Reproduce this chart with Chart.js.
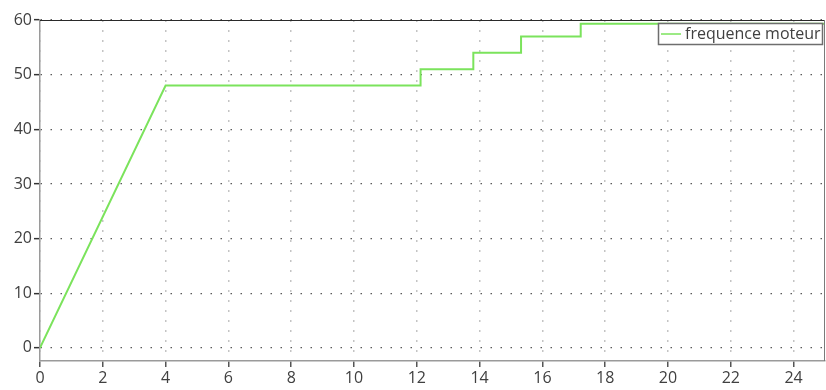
<!DOCTYPE html>
<html>
<head>
<meta charset="utf-8">
<script src="https://cdn.jsdelivr.net/npm/chart.js@4"></script>
<style>
  html, body { margin: 0; padding: 0; background: #fff; }
  #wrap { width: 826px; height: 390px; }
</style>
</head>
<body>
<div id="wrap"><canvas id="freqChart"></canvas></div>
<script>
// Temps (s) et frequence moteur (Hz)
const timeValues = [0, 4, 12.12, 12.12, 13.8, 13.8, 15.32, 15.32, 17.22, 17.22, 25];
const freqValues = [0, 48, 48, 51, 51, 54, 54, 57, 57, 59.3, 59.3];
const xTicks = [0, 2, 4, 6, 8, 10, 12, 14, 16, 18, 20, 22, 24];
const yTicks = [0, 10, 20, 30, 40, 50, 60];
const seriesLabel = 'frequence moteur';

const COLORS = {
  line: '#7be35c',
  text: '#404040',
  axis: '#9a9a9a',
  gridX: '#c4c4c4',
  gridY: '#5a5a5a',
  frameTop: '#2a2a2a',
  frameRight: '#7a7a7a'
};
const FONT = { family: "'Open Sans', sans-serif", size: 16 };

// cadre haut/droite + legende encadree dans la zone du graphe
const framePlugin = {
  id: 'frame',
  afterDatasetsDraw(chart) {
    const { ctx, chartArea: a } = chart;
    ctx.save();
    ctx.lineWidth = 1;
    ctx.strokeStyle = COLORS.frameTop;
    ctx.beginPath();
    ctx.moveTo(a.left, a.top + 0.5);
    ctx.lineTo(a.right, a.top + 0.5);
    ctx.stroke();
    ctx.strokeStyle = COLORS.frameRight;
    ctx.beginPath();
    ctx.moveTo(a.right - 0.5, a.top);
    ctx.lineTo(a.right - 0.5, a.bottom);
    ctx.stroke();

    // legende
    const w = 165, h = 22;
    const lx = a.right - w - 2, ly = a.top + 3;
    ctx.fillStyle = '#fff';
    ctx.fillRect(lx, ly, w, h);
    ctx.beginPath();
    ctx.rect(lx, ly, w, h);
    ctx.clip();
    ctx.strokeStyle = COLORS.line;
    ctx.lineWidth = 1.5;
    ctx.beginPath();
    ctx.moveTo(lx + 3, ly + h / 2);
    ctx.lineTo(lx + 23, ly + h / 2);
    ctx.stroke();
    ctx.fillStyle = COLORS.text;
    ctx.font = `${FONT.size}px ${FONT.family}`;
    ctx.textBaseline = 'middle';
    ctx.fillText(seriesLabel, lx + 27, ly + h / 2 + 0.5);
    ctx.restore();
    ctx.save();
    ctx.strokeStyle = '#6e6e6e';
    ctx.lineWidth = 1.5;
    ctx.strokeRect(lx + 0.5, ly + 0.5, w - 1, h - 1);
    ctx.restore();
  }
};

new Chart(document.getElementById('freqChart'), {
  type: 'line',
  data: {
    datasets: [{
      label: seriesLabel,
      data: timeValues.map((t, i) => ({ x: t, y: freqValues[i] })),
      borderColor: COLORS.line,
      borderWidth: 2,
      pointRadius: 0,
      tension: 0,
      fill: false
    }]
  },
  options: {
    responsive: true,
    maintainAspectRatio: false,
    animation: false,
    layout: { padding: { top: 20, right: 1, left: 0, bottom: 0 } },
    plugins: {
      legend: { display: false },
      tooltip: { enabled: false }
    },
    scales: {
      x: {
        type: 'linear',
        min: 0,
        max: 25,
        afterBuildTicks: s => { s.ticks = xTicks.map(v => ({ value: v })); },
        afterFit: s => { s.height = 29; },
        border: { color: COLORS.axis, width: 1.5, dash: [2, 8] },
        grid: {
          color: COLORS.gridX,
          lineWidth: 1.5,
          tickColor: '#555',
          tickBorderDash: [],
          tickLength: 6,
          tickWidth: 1.5
        },
        ticks: { color: COLORS.text, font: FONT, padding: 2, maxRotation: 0, autoSkip: false }
      },
      y: {
        min: -2.4,
        max: 60,
        afterBuildTicks: s => { s.ticks = yTicks.map(v => ({ value: v })); },
        afterFit: s => { s.width = 40; },
        border: { color: COLORS.axis, width: 1.5, dash: [1.5, 8.5] },
        grid: {
          color: COLORS.gridY,
          lineWidth: 1.3,
          tickColor: '#333',
          tickBorderDash: [],
          tickLength: 6,
          tickWidth: 1.5
        },
        ticks: { color: COLORS.text, font: FONT, padding: 2 }
      }
    }
  },
  plugins: [framePlugin]
});
</script>
</body>
</html>
